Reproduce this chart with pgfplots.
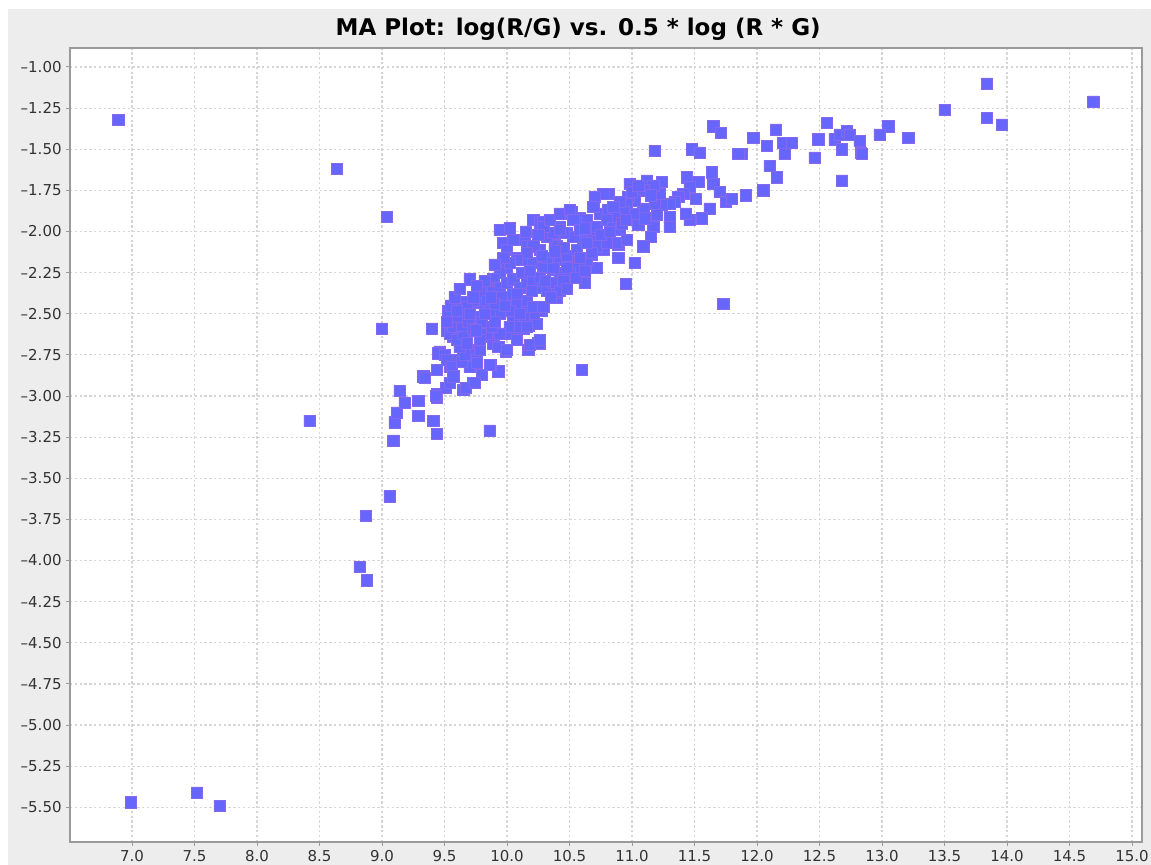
\documentclass[border=0pt]{standalone}
\usepackage{fontspec}
\setmainfont{DejaVu Sans}
\usepackage{pgfplots}
\usepackage{pgfplotstable}
\pgfplotsset{compat=1.18}
\definecolor{bgc}{HTML}{EDEDED}
\definecolor{markfill}{HTML}{6666FC}
\definecolor{markedge}{HTML}{8668EE}
\definecolor{gridc}{HTML}{D6D6D6}
\definecolor{framec}{HTML}{9A9A9A}
\pgfdeclareplotmark{rsq}{%
  \pgfsetcornersarced{\pgfpoint{1.6bp}{1.6bp}}%
  \pgfpathmoveto{\pgfpoint{-\pgfplotmarksize}{0pt}}%
  \pgfpathlineto{\pgfpoint{-\pgfplotmarksize}{\pgfplotmarksize}}%
  \pgfpathlineto{\pgfpoint{\pgfplotmarksize}{\pgfplotmarksize}}%
  \pgfpathlineto{\pgfpoint{\pgfplotmarksize}{-\pgfplotmarksize}}%
  \pgfpathlineto{\pgfpoint{-\pgfplotmarksize}{-\pgfplotmarksize}}%
  \pgfpathclose
  \pgfusepathqfillstroke}
\pgfplotstableread{
x y
6.89 -1.32
6.99 -5.47
7.52 -5.41
7.70 -5.49
8.64 -1.62
8.42 -3.15
8.82 -4.04
8.88 -4.12
8.87 -3.73
9.06 -3.61
9.04 -1.91
9.00 -2.59
9.09 -3.27
9.10 -3.16
9.12 -3.10
9.14 -2.97
9.18 -3.04
9.29 -3.03
9.29 -3.12
9.41 -3.15
9.44 -3.23
9.86 -3.21
9.44 -2.99
9.44 -3.01
9.33 -2.88
9.34 -2.89
9.44 -2.84
9.51 -2.95
9.54 -2.92
9.40 -2.59
9.53 -2.48
10.60 -2.84
11.73 -2.44
9.94 -1.99
10.02 -1.98
10.95 -2.32
13.50 -1.26
13.84 -1.10
13.84 -1.31
13.96 -1.35
14.69 -1.21
13.21 -1.43
13.05 -1.36
12.98 -1.41
12.56 -1.34
12.15 -1.38
11.97 -1.43
12.08 -1.48
12.21 -1.46
12.28 -1.46
12.22 -1.53
12.10 -1.60
12.16 -1.67
12.05 -1.75
11.91 -1.78
11.88 -1.53
11.85 -1.53
12.49 -1.44
12.46 -1.55
12.62 -1.44
12.66 -1.41
12.72 -1.39
12.74 -1.41
12.82 -1.45
12.83 -1.52
12.84 -1.53
12.68 -1.50
12.68 -1.69
11.65 -1.36
11.71 -1.40
11.18 -1.51
11.48 -1.50
11.54 -1.52
11.64 -1.64
11.65 -1.71
11.70 -1.76
11.75 -1.82
11.80 -1.80
11.62 -1.86
11.56 -1.92
11.46 -1.93
11.43 -1.89
11.51 -1.80
11.44 -1.67
11.53 -1.70
11.46 -1.73
11.41 -1.77
11.37 -1.79
11.34 -1.82
11.30 -1.83
11.24 -1.84
11.18 -1.83
11.22 -1.77
11.24 -1.70
11.12 -1.69
11.17 -1.72
11.09 -1.75
10.98 -1.71
11.30 -1.91
11.30 -1.97
11.17 -1.97
11.15 -2.03
11.09 -2.09
11.02 -2.19
10.89 -2.16
11.09 -1.86
11.01 -1.89
11.02 -1.81
10.97 -1.79
11.00 -1.76
10.96 -1.83
10.81 -1.77
10.77 -1.77
10.70 -1.79
10.77 -2.11
10.68 -2.14
10.72 -2.22
10.89 -2.08
10.62 -2.31
10.40 -2.40
10.28 -2.46
10.25 -2.68
10.17 -2.72
9.99 -2.73
9.93 -2.85
9.87 -2.81
9.80 -2.87
9.73 -2.92
9.65 -2.96
9.43 -3.00
9.54 -2.82
9.60 -2.78
9.65 -2.75
9.70 -2.72
9.76 -2.78
9.46 -2.73
9.52 -2.60
9.57 -2.64
9.62 -2.68
9.45 -2.74
9.50 -2.75
9.52 -2.78
9.56 -2.82
9.57 -2.88
9.67 -2.95
9.74 -2.92
9.70 -2.82
9.76 -2.80
9.86 -2.81
9.64 -2.79
9.66 -2.75
9.62 -2.70
9.78 -2.72
9.54 -2.62
9.60 -2.66
9.65 -2.62
9.57 -2.58
9.64 -2.57
9.69 -2.55
9.73 -2.59
9.81 -2.61
9.85 -2.64
9.89 -2.68
9.93 -2.70
10.00 -2.72
10.26 -2.68
10.02 -2.62
10.08 -2.61
10.13 -2.59
10.17 -2.57
10.24 -2.56
10.28 -2.48
10.21 -2.50
10.13 -2.51
10.05 -2.51
9.65 -2.43
9.70 -2.46
9.78 -2.43
9.86 -2.46
9.92 -2.48
10.00 -2.46
10.08 -2.43
10.16 -2.46
9.97 -2.07
10.00 -2.11
10.14 -2.05
10.16 -2.09
10.21 -1.93
10.26 -1.95
10.29 -1.94
9.70 -2.29
10.52 -1.89
10.58 -1.92
10.74 -1.89
10.81 -1.87
10.88 -1.90
10.93 -1.88
10.42 -1.97
10.48 -2.01
10.56 -2.03
10.64 -2.01
10.69 -2.05
10.72 -2.09
10.88 -2.07
10.38 -2.08
10.34 -2.16
10.42 -2.17
10.50 -2.16
10.56 -2.19
10.64 -2.17
10.08 -2.16
10.16 -2.17
10.21 -2.19
10.29 -2.22
10.37 -2.23
10.42 -2.25
10.00 -2.22
9.94 -2.25
9.89 -2.29
9.84 -2.34
9.78 -2.37
9.73 -2.42
9.68 -2.46
9.65 -2.50
10.24 -2.34
10.32 -2.36
10.40 -2.37
9.60 -2.52
10.52 -1.88
10.61 -1.95
10.72 -1.99
10.86 -1.91
10.68 -2.13
10.61 -2.07
10.53 -2.03
10.45 -2.01
10.40 -2.09
10.48 -2.15
10.57 -2.22
10.50 -2.25
10.40 -2.31
10.37 -2.22
10.69 -1.85
10.64 -1.93
10.72 -1.97
10.80 -1.93
10.85 -1.98
10.90 -1.99
10.96 -2.05
10.80 -2.07
10.56 -2.11
10.58 -2.16
10.48 -2.22
10.32 -2.16
10.26 -2.11
10.21 -2.09
10.16 -2.13
10.08 -2.17
10.02 -2.19
9.97 -2.16
10.32 -2.03
10.37 -2.01
10.42 -1.99
10.29 -1.97
10.34 -1.93
10.42 -1.89
10.50 -1.87
10.53 -1.93
10.58 -1.99
10.64 -2.07
9.73 -2.40
9.84 -2.42
9.89 -2.37
9.94 -2.34
10.00 -2.31
10.05 -2.29
10.10 -2.34
10.16 -2.31
10.21 -2.29
10.26 -2.28
10.37 -2.31
10.42 -2.36
10.16 -2.42
10.21 -2.46
10.29 -2.46
10.02 -2.48
9.94 -2.50
9.86 -2.48
9.78 -2.52
9.70 -2.50
10.02 -2.58
10.10 -2.58
10.16 -2.58
9.94 -2.62
9.84 -2.62
9.78 -2.66
9.68 -2.68
10.08 -2.66
10.18 -2.69
10.26 -2.66
9.55 -2.45
9.58 -2.40
9.62 -2.35
9.52 -2.55
9.60 -2.48
9.82 -2.30
9.90 -2.20
9.80 -2.55
9.88 -2.58
10.05 -2.38
10.12 -2.25
10.20 -2.36
10.30 -2.30
10.35 -2.40
10.45 -2.30
10.55 -2.28
10.48 -2.35
10.62 -2.24
10.15 -2.00
10.05 -2.05
10.25 -2.02
10.45 -2.10
10.62 -1.98
10.75 -2.02
10.82 -2.00
10.92 -1.95
11.05 -1.96
10.95 -1.93
11.10 -1.92
11.20 -1.90
10.90 -1.82
10.85 -1.85
11.05 -1.72
11.15 -1.78
9.96 -2.40
9.90 -2.44
9.75 -2.60
9.90 -2.55
10.10 -2.50
9.82 -2.50
9.98 -2.45
10.08 -2.38
10.18 -2.24
10.28 -2.15
10.38 -2.12
9.76 -2.33
9.87 -2.40
}\datatable
\begin{document}
\begin{tikzpicture}
\path[use as bounding box, fill=white] (0,0) rectangle (575.5bp,432.5bp);
\fill[bgc] (4bp,0) rectangle (575.5bp,428bp);
\fill[gray!15] (571bp,0) rectangle (575.5bp,428bp);
\begin{axis}[
  at={(35bp,11.5bp)}, anchor=south west,
  scale only axis, width=536bp, height=397bp,
  xmin=6.504, xmax=15.08, ymin=-5.711, ymax=-0.8845,
  axis background/.style={fill=white},
  axis line style={framec, line width=0.6bp},
  xtick={7,7.5,...,15},
  xticklabels={7.0,7.5,8.0,8.5,9.0,9.5,10.0,10.5,11.0,11.5,12.0,12.5,13.0,13.5,14.0,14.5,15.0},
  ytick={-5.5,-5.25,...,-1},
  yticklabels={--5.50,--5.25,--5.00,--4.75,--4.50,--4.25,--4.00,--3.75,--3.50,--3.25,--3.00,--2.75,--2.50,--2.25,--2.00,--1.75,--1.50,--1.25,--1.00},
  tick align=outside, major tick length=2bp,
  tick style={framec, line width=0.5bp},
  xtick pos=bottom, ytick pos=left,
  grid=major,
  major grid style={gridc, line width=0.6bp, dash pattern=on 1.2bp off 1.2bp},
  tick label style={font=\fontsize{7.5bp}{9bp}\selectfont, text=black!80},
  xticklabel style={inner sep=0pt, yshift=-2bp},
  yticklabel style={inner sep=0pt, xshift=-2bp},
  title={MA Plot: log(R/G) vs. 0.5 * log (R * G)},
  title style={font=\fontsize{11.5bp}{14bp}\selectfont\bfseries, at={(0.474,1)}, anchor=base, yshift=0.5bp, inner sep=0pt},
  clip=true,
]
\addplot[only marks, mark=rsq, mark size=2.8bp, mark options={fill=markfill, draw=markedge, line width=0.3bp}] table[x=x, y=y] {\datatable};
\end{axis}
\end{tikzpicture}
\end{document}
